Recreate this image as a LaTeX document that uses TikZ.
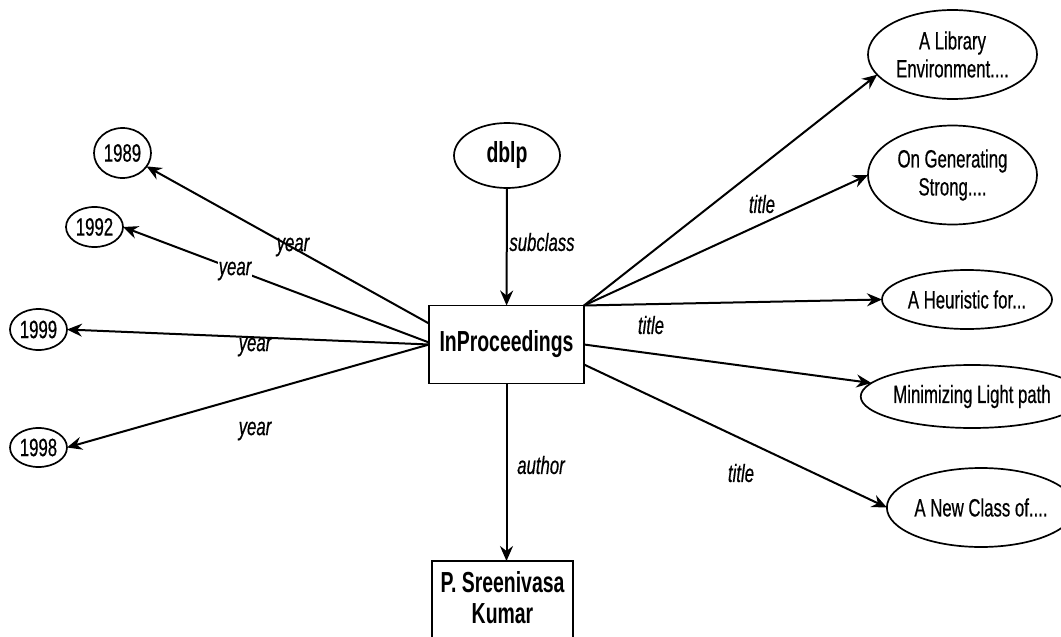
\documentclass[tikz,border=0pt]{standalone}
\usepackage{fontspec}
\setmainfont{Liberation Sans}[FakeStretch=0.67,UprightFeatures={FakeBold=0.5},ItalicFeatures={FakeBold=0.5}]
\usetikzlibrary{arrows.meta,shapes.geometric,calc}
\begin{document}
\begin{tikzpicture}[x=1pt,y=-1pt,
  every node/.style={inner sep=0pt,outer sep=0pt},
  lit/.style={draw,line width=1.7pt,ellipse,align=center,font=\fontsize{25}{28}\selectfont},
  cls/.style={draw,line width=1.7pt,rectangle,align=center,font=\bfseries\fontsize{29}{31}\selectfont},
  bold/.style={align=center,font=\bfseries\fontsize{29}{31}\selectfont},
  lbl/.style={font=\itshape\fontsize{25}{28}\selectfont},
  rel/.style={line width=2pt,-{Stealth[length=15pt,width=13pt,inset=5pt]}}]
\useasboundingbox (0,0) rectangle (1061,637);
% central nodes
\node[cls,minimum width=155pt,minimum height=78pt] (ip) at (506.5,344.5) {InProceedings};
\node[lit,font=\bfseries\fontsize{29}{31}\selectfont,minimum width=106pt,minimum height=65pt] (dblp) at (507,155.5) {dblp};
\node[draw,line width=1.7pt,rectangle,minimum width=141pt,minimum height=100pt,anchor=north] (kum) at (502.5,561) {};
\node[bold] (kumt) at (502.5,598) {P. Sreenivasa\\Kumar};
% years
\node[lit,minimum width=57pt,minimum height=50pt] (y89) at (122.5,153) {1989};
\node[lit,minimum width=57pt,minimum height=40pt] (y92) at (94.5,227) {1992};
\node[lit,minimum width=57pt,minimum height=41pt] (y99) at (38.5,329.5) {1999};
\node[lit,minimum width=57pt,minimum height=39pt] (y98) at (38.5,447.5) {1998};
% titles
\node[lit,minimum width=169pt,minimum height=89pt] (lib) at (952.5,54.5) {A Library\\Environment....};
\node[lit,minimum width=169pt,minimum height=99pt] (str) at (952.5,175) {On Generating\\Strong....};
\node[lit,minimum width=170pt,minimum height=59pt] (heu) at (967,299.5) {A Heuristic for...};
\node[lit,minimum width=170pt,minimum height=63pt] (mlp) at (972,396.5) {Minimizing Light path};
\node[lit,minimum width=170pt,minimum height=79pt] (ncl) at (981,507.5) {A New Class of....};
% connectors
\draw[rel] (dblp) -- (ip);
\draw[rel] (ip.south) -- (ip.south |- kum.north);
\draw[rel] ([yshift=21pt]ip.west) -- (y89);
\draw[rel] ([yshift=2pt]ip.west) -- (y92.east);
\draw[rel] (ip.west) -- (y99.east);
\draw[rel] (ip.west) -- (y98.east);
\draw[rel] (ip.north east) -- (lib.195);
\draw[rel] (ip.north east) -- (str.west);
\draw[rel] (ip.north east) -- (heu.west);
\draw[rel] (ip.east) -- (mlp);
\draw[rel] ([yshift=-20pt]ip.east) -- (ncl.west);
% labels
\node[lbl] (l89) at (293,247) {year};
\node[lbl,fill=white,inner sep=1pt] (l92) at (235,271) {year};
\node[lbl] (l99) at (255,347) {year};
\node[lbl] (l98) at (255,431) {year};
\node[lbl] (lsub) at (542,242) {subclass};
\node[lbl] (laut) at (541,465) {author};
\node[lbl] (lt1) at (762,204) {title};
\node[lbl] (lt2) at (651,325) {title};
\node[lbl] (lt3) at (741,473) {title};
\end{tikzpicture}
\end{document}
